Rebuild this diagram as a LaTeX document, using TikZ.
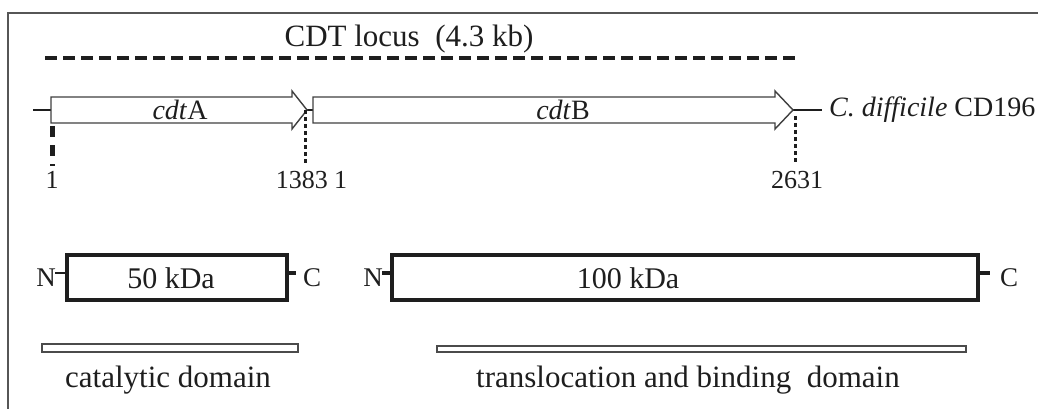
\documentclass[tikz,border=0pt]{standalone}
\usepackage{fontspec}
\setmainfont{Liberation Serif}
\begin{document}
\begin{tikzpicture}[x=1pt,y=-1pt,
  txt/.style={inner sep=0pt,anchor=base,text=ink},
  gene/.style={draw=ink!85,line width=1.4pt,fill=white,line join=miter},
  axis/.style={draw=ink,line width=1.2pt},
  prot/.style={draw=ink,line width=4.5pt,fill=white},
  stub/.style={draw=ink,line width=4pt},
  dombar/.style={draw=ink!80,line width=1.2pt,fill=white},
  tick/.style={draw=ink,line width=3pt,dash pattern=on 4pt off 3pt},
  bigtick/.style={draw=ink,line width=5pt,dash pattern=on 11pt off 8pt}]
\definecolor{ink}{HTML}{1E1E1E}
\useasboundingbox (0,0) rectangle (1038,409);
% frame
\draw[ink!75,line width=1.4pt] (1038,13) -- (8,13) -- (8,409);

% locus span
\node[txt,font=\fontsize{31}{31}\selectfont] (title) at (409,47) {CDT locus\ \ (4.3 kb)};
\coordinate (locL) at (45,58);
\coordinate (locR) at (798,58);
\draw[ink,line width=4pt,dash pattern=on 12pt off 6pt] (locL) -- (locR);

% genes
\coordinate (start) at (33,110);
\coordinate (aL) at (51,110);
\coordinate (aTip) at (307,110);
\coordinate (bL) at (313,110);
\coordinate (bTip) at (793,110);
\coordinate (endL) at (822,110);
\draw[axis] (start) -- (aL);
\draw[axis] (aTip) -- (bL);
\draw[axis] (bTip) -- (endL);
\path[gene] (51,97) -- (292,97) -- (292,91) -- (aTip) -- (292,129) -- (292,123) -- (51,123) -- cycle;
\path[gene] (313,97) -- (775,97) -- (775,91) -- (bTip) -- (775,129) -- (775,123) -- (313,123) -- cycle;
\node[txt,font=\fontsize{28}{28}\selectfont] (cdtA) at (180,120) {\textit{cdt}A};
\node[txt,font=\fontsize{28}{28}\selectfont] (cdtB) at (563,120) {\textit{cdt}B};
\node[txt,anchor=base west,font=\fontsize{28}{28}\selectfont] (strain) at (829,117) {\textit{C. difficile} CD196};

% coordinates
\node[txt,font=\fontsize{26}{26}\selectfont] (p1) at (52,188) {1};
\node[txt,anchor=base east,font=\fontsize{26}{26}\selectfont] (p1383) at (328,188) {1383};
\node[txt,anchor=base west,font=\fontsize{26}{26}\selectfont] (p1b) at (334,188) {1};
\node[txt,font=\fontsize{26}{26}\selectfont] (p2631) at (797,188) {2631};
\coordinate (m1a) at (52,126);
\coordinate (m1b) at (52,166);
\coordinate (m2a) at (305,110);
\coordinate (m2b) at (305,163);
\coordinate (m3a) at (795,116);
\coordinate (m3b) at (795,163);
\draw[bigtick] (m1a) -- (m1b);
\draw[tick] (m2a) -- (m2b);
\draw[tick] (m3a) -- (m3b);

% proteins
\path[prot] (67,255) rectangle (287,300);
\path[prot] (392,255) rectangle (978,300);
\node[txt,font=\fontsize{30}{30}\selectfont] (kda50) at (171,288) {50 kDa};
\node[txt,font=\fontsize{30}{30}\selectfont] (kda100) at (628,288) {100 kDa};
\node[txt,font=\fontsize{27}{27}\selectfont] (nA) at (46,286) {N};
\node[txt,font=\fontsize{27}{27}\selectfont] (cA) at (312,286) {C};
\node[txt,font=\fontsize{27}{27}\selectfont] (nB) at (373,286) {N};
\node[txt,font=\fontsize{27}{27}\selectfont] (cB) at (1009,286) {C};
\draw[ink,line width=2pt] (55,273) -- (67,273);
\draw[stub] (287,273) -- (296,273);
\draw[stub] (382,273) -- (392,273);
\draw[stub] (978,273) -- (990,273);

% domains
\path[dombar] (42,344) rectangle (298,352);
\path[dombar] (437,346) rectangle (966,352);
\node[txt,font=\fontsize{31}{31}\selectfont] (catdom) at (168,387) {catalytic domain};
\node[txt,font=\fontsize{31}{31}\selectfont] (tbdom) at (688,387) {translocation and binding\ \ domain};
\end{tikzpicture}
\end{document}
